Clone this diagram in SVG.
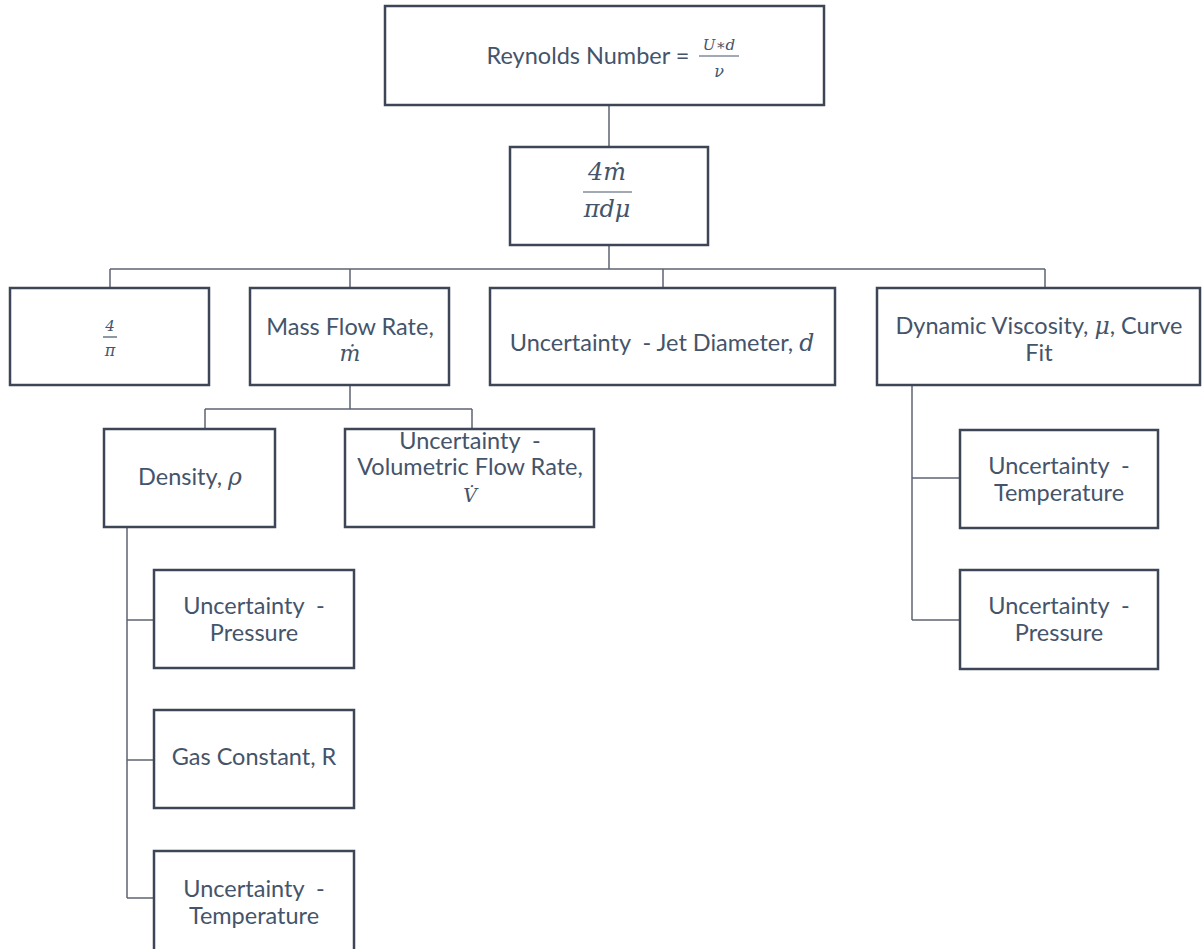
<svg xmlns="http://www.w3.org/2000/svg" width="1203" height="949" viewBox="0 0 1203 949">
  <style>
    .box { fill: #ffffff; stroke: #3c4656; stroke-width: 2.5; }
    .link { fill: none; stroke: #5d6472; stroke-width: 1.5; }
    .t { font-family: Lato, "Open Sans", "Liberation Sans", sans-serif; font-size: 23.5px; fill: #44546a; text-anchor: middle; }
    .m { font-family: "DejaVu Serif", "Liberation Serif", serif; font-style: italic; fill: #44546a; text-anchor: middle; }
    .mi { font-family: "DejaVu Serif", "Liberation Serif", serif; font-style: italic; }
    .bar { stroke: #44546a; stroke-width: 1.2; }
  </style>
  <rect width="1203" height="949" fill="#ffffff"/>

  <!-- connectors -->
  <g id="connectors">
    <path class="link" d="M609 105 V147"/>
    <path class="link" d="M609 245 V269 M110 269 H1045 M110 269 V288 M350 269 V288 M663 269 V288 M1045 269 V288"/>
    <path class="link" d="M350 385 V409 M205 409 H472 M205 409 V429 M472 409 V429"/>
    <path class="link" d="M127 527 V898 M127 620 H154 M127 760 H154 M127 898 H154"/>
    <path class="link" d="M912 385 V620 M912 478 H960 M912 620 H960"/>
  </g>

  <!-- root: Reynolds number -->
  <g id="reynolds">
    <rect class="box" x="385" y="6" width="439" height="99"/>
    <text class="t" x="588" y="64">Reynolds Number =</text>
    <text class="m" x="719" y="50" font-size="15">U∗d</text>
    <line class="bar" x1="699" y1="56" x2="739" y2="56"/>
    <text class="m" x="719" y="77" font-size="16">ν</text>
  </g>

  <!-- expanded form 4m/(pi d mu) -->
  <g id="expanded">
    <rect class="box" x="510" y="147" width="198" height="98"/>
    <text class="m" x="607" y="180" font-size="24">4ṁ</text>
    <line class="bar" x1="583" y1="192" x2="632" y2="192" stroke-width="1.5"/>
    <text class="m" x="607" y="217" font-size="24">πdμ</text>
  </g>

  <!-- level 2 -->
  <g id="four-over-pi">
    <rect class="box" x="10" y="288" width="199" height="97"/>
    <text class="m" x="110" y="331" font-size="15" font-style="normal">4</text>
    <line class="bar" x1="103" y1="337" x2="117" y2="337"/>
    <text class="m" x="110" y="356" font-size="16">π</text>
  </g>

  <g id="mass-flow">
    <rect class="box" x="250" y="288" width="199" height="97"/>
    <text class="t" x="350" y="335">Mass Flow Rate,</text>
    <text class="m" x="350" y="361" font-size="22">ṁ</text>
  </g>

  <g id="jet-diameter">
    <rect class="box" x="490" y="288" width="345" height="97"/>
    <text class="t" x="662" y="351" xml:space="preserve">Uncertainty  - Jet Diameter, <tspan class="mi">d</tspan></text>
  </g>

  <g id="viscosity">
    <rect class="box" x="877" y="288" width="323" height="97"/>
    <text class="t" x="1039" y="334">Dynamic Viscosity, <tspan class="mi">μ</tspan>, Curve</text>
    <text class="t" x="1039" y="361">Fit</text>
  </g>

  <!-- level 3 under mass flow -->
  <g id="density">
    <rect class="box" x="104" y="429" width="171" height="98"/>
    <text class="t" x="190" y="485">Density, <tspan class="mi">ρ</tspan></text>
  </g>

  <g id="volumetric-flow">
    <rect class="box" x="345" y="429" width="249" height="98"/>
    <text class="t" x="470" y="449" font-size="22" xml:space="preserve">Uncertainty  -</text>
    <text class="t" x="470" y="475" font-size="22">Volumetric Flow Rate,</text>
    <text class="m" x="470" y="502" font-size="19">V̇</text>
  </g>

  <!-- density inputs -->
  <g id="density-pressure">
    <rect class="box" x="154" y="570" width="200" height="98"/>
    <text class="t" x="254" y="614" xml:space="preserve">Uncertainty  -</text>
    <text class="t" x="254" y="641">Pressure</text>
  </g>

  <g id="gas-constant">
    <rect class="box" x="154" y="710" width="200" height="98"/>
    <text class="t" x="254" y="765">Gas Constant, R</text>
  </g>

  <g id="density-temperature">
    <rect class="box" x="154" y="851" width="200" height="100"/>
    <text class="t" x="254" y="897" xml:space="preserve">Uncertainty  -</text>
    <text class="t" x="254" y="924">Temperature</text>
  </g>

  <!-- viscosity inputs -->
  <g id="viscosity-temperature">
    <rect class="box" x="960" y="430" width="198" height="98"/>
    <text class="t" x="1059" y="474" xml:space="preserve">Uncertainty  -</text>
    <text class="t" x="1059" y="501">Temperature</text>
  </g>

  <g id="viscosity-pressure">
    <rect class="box" x="960" y="570" width="198" height="99"/>
    <text class="t" x="1059" y="614" xml:space="preserve">Uncertainty  -</text>
    <text class="t" x="1059" y="641">Pressure</text>
  </g>
</svg>
